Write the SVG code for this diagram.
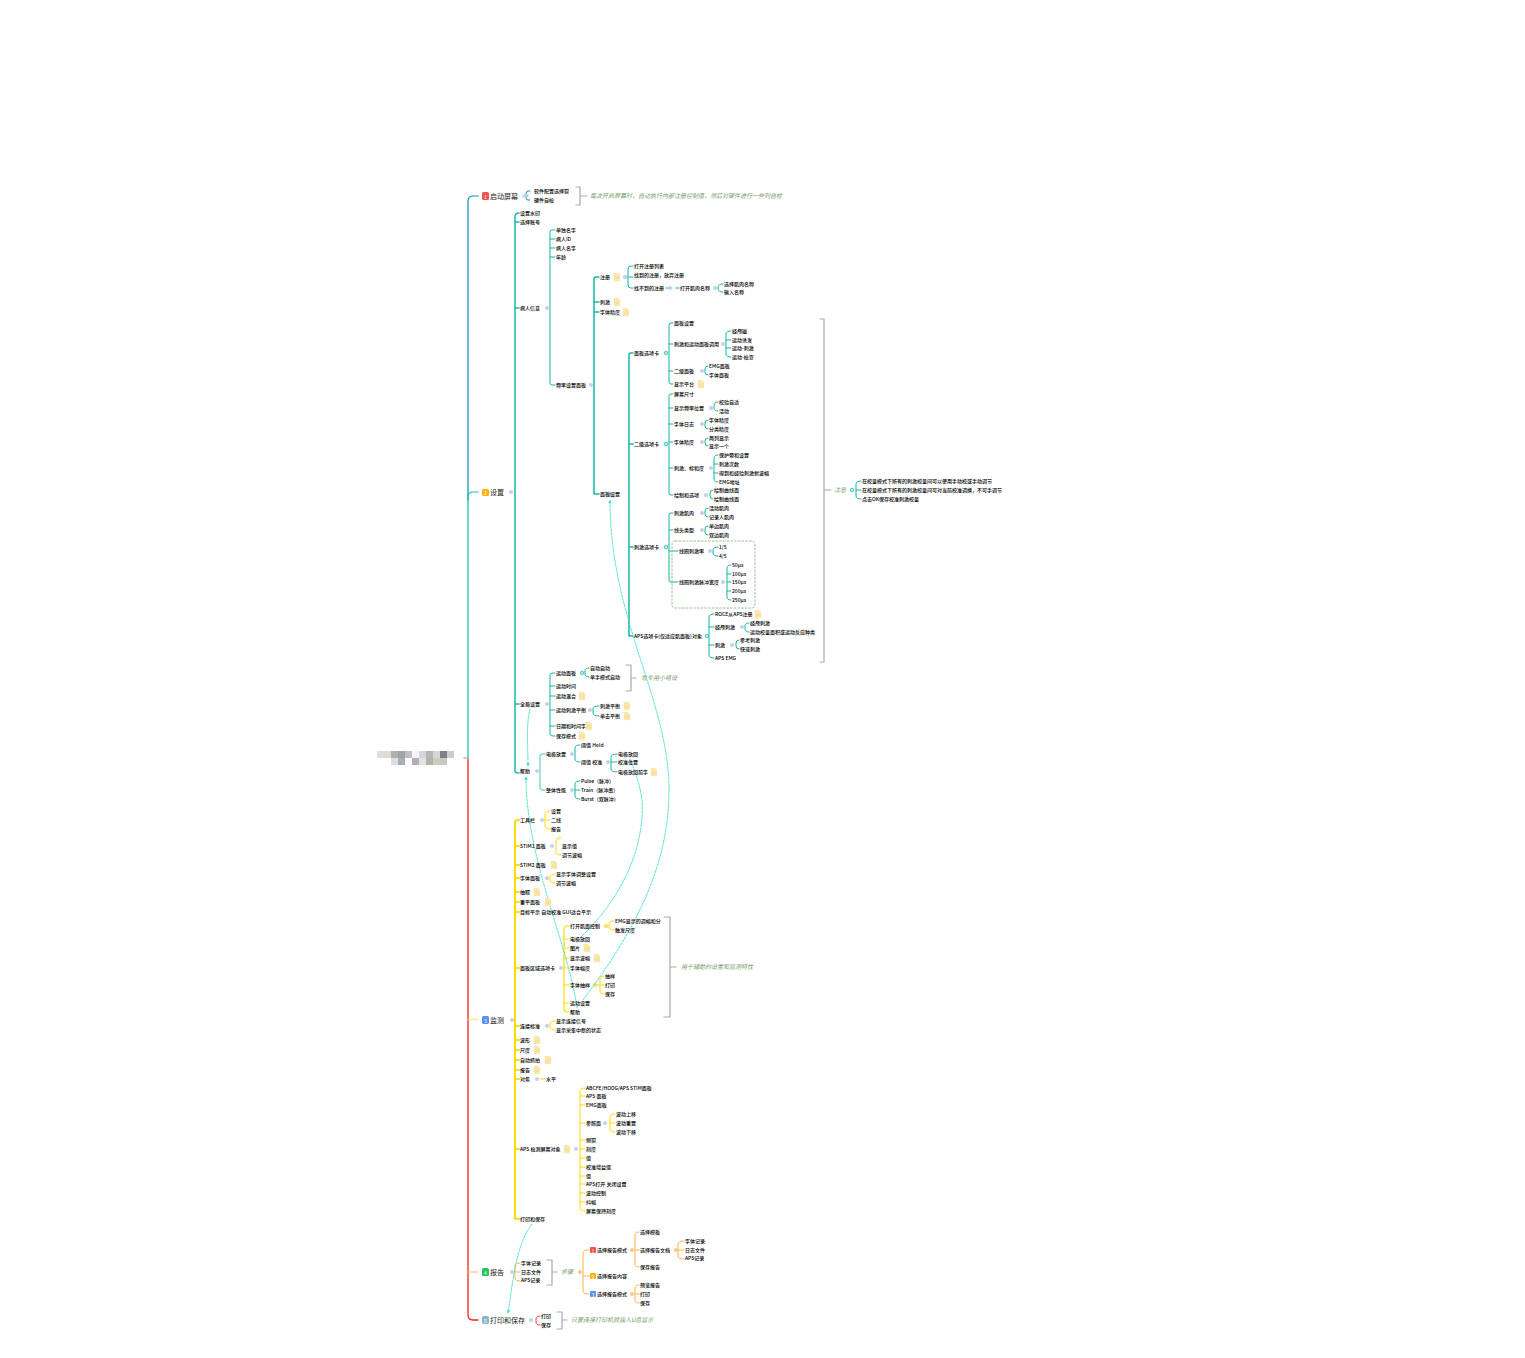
<svg xmlns="http://www.w3.org/2000/svg" width="1525" height="1358" viewBox="0 0 1525 1358">
<style>
text{font-family:"Noto Sans CJK SC","Liberation Sans",sans-serif;font-size:5px;fill:#000;dominant-baseline:central}
#nodes text{transform:translateY(-1px);font-weight:500}
#nodes text.bn{transform:none;font-weight:400}
#nodes use{transform:translateX(1px)}
.top{font-size:7px;fill:#222}
.sum{font-size:6px;font-style:italic;fill:#7a9a6a;transform:translateY(-.7px)}
.bn{font-size:5px;fill:#fff;text-anchor:middle}
path,line{fill:none;stroke-linecap:round}
.b0{stroke:#0a8fb0;stroke-width:1.2}
.b1{stroke:#f5261a;stroke-width:1.3}
.t{stroke:#14b8a6;stroke-width:1}
.t2{stroke:#14b8a6;stroke-width:1.5}
.tl{stroke:#7fdcc9;stroke-width:1.4}
.y{stroke:#ffdc00;stroke-width:1}
.y2{stroke:#ffdc00;stroke-width:2}
.o{stroke:#ffb14a;stroke-width:1}
.r{stroke:#f04040;stroke-width:1}
.g{stroke:#aaa;stroke-width:1.2}
.d{fill:#c5d0ea}
.dt{fill:#b8ecdf;stroke:#14b8a6;stroke-width:.7}
.dy{fill:#f1df9a;stroke:#ffdc00;stroke-width:.6}
.do{fill:#f5c98a}
.x{stroke:#3fe0d0;stroke-width:.9;stroke-dasharray:2.2 1.3}
</style>
<defs>
<symbol id="note" viewBox="0 0 6 8" overflow="visible"><path d="M0 0H4L6 2V8H0Z" style="fill:#fbe6ad;stroke:#fbe6ad;stroke-width:.3"/><path d="M1 4H5M1 5.500H5" style="stroke:#f5d78a;stroke-width:.5"/></symbol>
<marker id="ah" markerWidth="5" markerHeight="5" refX="3.500" refY="2" orient="auto"><path d="M0 0L4 2L0 4Z" style="fill:#3fe0d0;stroke:none"/></marker>
</defs>
<g id="root">
<rect x="377" y="751" width="7" height="7" fill="#e3ddd8"/><rect x="384" y="751" width="7" height="7" fill="#e0dbd0"/><rect x="391" y="751" width="7" height="7" fill="#b0b0ae"/><rect x="398" y="751" width="7" height="7" fill="#9aa4aa"/><rect x="405" y="751" width="7" height="7" fill="#c0c0c0"/><rect x="412" y="751" width="7" height="7" fill="#f4f4f4"/><rect x="419" y="751" width="7" height="7" fill="#d0d6dc"/><rect x="426" y="751" width="7" height="7" fill="#b4b6b4"/><rect x="433" y="751" width="7" height="7" fill="#d8d6d4"/><rect x="440" y="751" width="7" height="7" fill="#80808a"/><rect x="447" y="751" width="7" height="7" fill="#c8ccd4"/>
<rect x="391" y="758" width="7" height="7" fill="#dcdee4"/><rect x="398" y="758" width="7" height="7" fill="#a8b0b4"/><rect x="412" y="758" width="7" height="7" fill="#b4aebc"/><rect x="419" y="758" width="7" height="7" fill="#e4e2dc"/><rect x="426" y="758" width="7" height="7" fill="#b0b2b0"/><rect x="433" y="758" width="7" height="7" fill="#ccccc4"/><rect x="440" y="758" width="7" height="7" fill="#c8c8be"/>
</g>
<g id="connectors">
<path class="b0" d="M468 500V201Q468 196 473 196H478"/>
<path d="M473 196H478" style="stroke:#86c9d8;stroke-width:1.500"/>
<path d="M468 758V497Q468 492 473 492H478" style="stroke:#00c4b0;stroke-width:1.200"/>
<path d="M473 492H478" style="stroke:#8fe3d6;stroke-width:1.500"/>
<path class="b1" d="M468 758V1315Q468 1320 473 1320H478"/>
<path d="M469 1019.500H478" style="stroke:#ffe98a;stroke-width:1.500"/>
<path d="M469 1272H478" style="stroke:#ffd39a;stroke-width:1.500"/>
<path d="M464 758H468" style="stroke:#bbb;stroke-width:1.500"/>
<g id="links">
<path class="b0" d="M530 191H528Q526 191 526 194V197Q526 200 528 200H530M528 196H523" style="stroke-width:1"/>
<path class="t2" d="M515 771V217Q515 213 519 213M515 222H519M515 308H519M515 704H519M515 771Q515 773 519 773"/>
<path class="t" d="M555 230H552Q550 230 550 232V383Q550 385 552 385H555M550 239H555M550 248H555M550 257H555"/>
<path class="t2" d="M594 494V279Q594 277 596 277H599M594 302H599M594 312H599M594 492Q594 494 596 494H599"/>
<path class="t" d="M633 266H631Q628 266 628 269V285Q628 288 631 288H633M628 277H633"/>
<path class="t" d="M666 288H672M676 288H679"/>
<path class="t" d="M723 284Q718 284 718 287V289Q718 292 723 292"/>
<path class="t2" d="M629 636V355Q629 353 631 353H633M629 444H633M629 547H633M629 634Q629 636 631 636H633"/>
<path class="t" d="M673 323H671Q669 323 669 325V382Q669 384 671 384H673M669 344H673M669 371H673"/>
<path class="t" d="M731 331Q726 331 726 334V354Q726 357 731 357M726 340H731M726 348H731"/>
<path class="t" d="M708 366Q705 366 705 369V372Q705 375 708 375"/>
<path class="t" d="M673 394H671Q669 394 669 396V493Q669 495 671 495H673M669 408H673M669 424H673M669 442H673M669 468H673"/>
<path class="t" d="M718 402Q714 402 714 405V408Q714 411 718 411"/>
<path class="t" d="M708 420Q705 420 705 423V426Q705 429 708 429"/>
<path class="t" d="M708 438Q705 438 705 441V443Q705 446 708 446"/>
<path class="t" d="M718 455Q714 455 714 458V479Q714 482 718 482M714 464H718M714 473H718"/>
<path class="t" d="M713 490Q710 490 710 493V496Q710 499 713 499"/>
<path class="t" d="M673 513H671Q669 513 669 515V580Q669 582 671 582H678M669 530H673M669 551H678"/>
<path class="t" d="M708 508Q705 508 705 511V514Q705 517 708 517"/>
<path class="t" d="M708 526Q705 526 705 529V532Q705 535 708 535"/>
<path class="t" d="M718 547Q713 547 713 550V553Q713 556 718 556"/>
<path class="t" d="M731 565Q727 565 727 568V597Q727 600 731 600M727 574H731M727 582H731M727 591H731"/>
<path class="t" d="M714 614Q709 614 709 617V655Q709 658 714 658M709 627H714M709 645H714"/>
<path class="t" d="M749 623Q745 623 745 626V629Q745 632 749 632"/>
<path class="t" d="M739 640Q736 640 736 643V646Q736 649 739 649"/>
<path class="g" d="M820 319H824V662H820M824 490H831"/>
<path class="t" d="M861 481Q856 481 856 484V496Q856 499 861 499M856 490H861"/>
<path class="t" d="M555 673H553Q550 673 550 675V734Q550 736 553 736H555M550 686H555M550 696H555M550 710H555M550 726H555"/>
<path class="t" d="M589 668Q585 668 585 671V674Q585 677 589 677"/>
<path class="t" d="M599 706Q593 706 593 709V713Q593 716 599 716"/>
<path class="g" d="M626 665H631V691H626M631 678H636"/>
<path class="tl" d="M545 754H543Q540 754 540 757V787Q540 790 543 790H545"/>
<path class="t" d="M580 745Q575 745 575 748V759Q575 762 580 762"/>
<path class="t" d="M617 754Q611 754 611 757V769Q611 772 617 772M611 762H617"/>
<path class="t" d="M580 781Q575 781 575 784V796Q575 799 580 799M575 790H580"/>
<path class="y2" d="M515 1219V822Q515 820 519 820M515 846H519M515 865H519M515 878H519M515 892H519M515 902H519M515 912H519M515 968H519M515 1026H519M515 1040H519M515 1050H519M515 1060H519M515 1070H519M515 1079H519M515 1149H519M515 1217Q515 1219 519 1219"/>
<path class="y" d="M550 811Q545 811 545 814V826Q545 829 550 829M545 820H550"/>
<path class="y" d="M561 838Q556 838 556 841V852Q556 855 561 855"/>
<path class="y" d="M555 874Q550 874 550 877V880Q550 883 555 883"/>
<path class="y2" d="M569 926H567Q564 926 564 929V1009Q564 1012 567 1012H569M564 939H569M564 948H569M564 958H569M564 968H569M564 985H569M564 1003H569" style="stroke-width:1.200"/>
<path class="y" d="M614 921Q609 921 609 924V927Q609 930 614 930"/>
<path class="y" d="M604 976Q600 976 600 979V991Q600 994 604 994M596 985H604"/>
<path class="g" d="M664 917H670V1017H664M670 967H676"/>
<path class="y" d="M555 1021Q550 1021 550 1024V1027Q550 1030 555 1030"/>
<path class="y" d="M540 1079H545"/>
<path class="y" d="M585 1088Q580 1088 580 1091V1208Q580 1211 585 1211M580 1096H585M580 1105H585M580 1123H585M580 1140H585M580 1149H585M580 1158H585M580 1167H585M580 1176H585M580 1184H585M580 1193H585M580 1202H585"/>
<path class="y" d="M615 1114Q610 1114 610 1117V1129Q610 1132 615 1132M610 1123H615"/>
<path class="o" d="M520 1263Q515 1263 515 1266V1278Q515 1281 520 1281M515 1272H520"/>
<path class="g" d="M547 1260H552V1285H547M552 1272H557"/>
<path class="o" d="M589 1250Q583 1250 583 1253V1291Q583 1294 589 1294M583 1276H589"/>
<path class="o" d="M639 1232Q635 1232 635 1235V1264Q635 1267 639 1267M635 1250H639"/>
<path class="o" d="M684 1241Q678 1241 678 1244V1256Q678 1259 684 1259M678 1250H684"/>
<path class="o" d="M639 1285Q635 1285 635 1288V1300Q635 1303 639 1303M635 1294H639"/>
<path class="r" d="M540 1316Q536 1316 536 1319V1322Q536 1325 540 1325"/>
<path class="g" d="M557 1312H562V1329H557M562 1320H567"/>
<path class="g" d="M576 187H580V205H576M580 196H587"/>
</g>
<g id="dots">
<g class="d"><circle cx="525" cy="196" r="2"/><circle cx="511" cy="492" r="2"/><circle cx="547" cy="308" r="2"/><circle cx="591" cy="385" r="2"/><circle cx="625" cy="277" r="2.200"/><circle cx="670" cy="288" r="2"/><circle cx="715" cy="288" r="2"/><circle cx="610" cy="494" r="2"/><circle cx="723" cy="344" r="2"/><circle cx="702" cy="371" r="2"/><circle cx="711" cy="408" r="2"/><circle cx="702" cy="424" r="2"/><circle cx="702" cy="442" r="2"/><circle cx="711" cy="468" r="2"/><circle cx="706" cy="495" r="2"/><circle cx="702" cy="513" r="2"/><circle cx="702" cy="530" r="2"/><circle cx="710" cy="551" r="2"/><circle cx="723" cy="582" r="2"/><circle cx="742" cy="627" r="2"/><circle cx="732" cy="645" r="2"/><circle cx="547" cy="704" r="2"/><circle cx="590" cy="710" r="2"/><circle cx="537" cy="771" r="2"/><circle cx="572" cy="754" r="2"/><circle cx="608" cy="762" r="2"/><circle cx="572" cy="790" r="2"/><circle cx="512" cy="1020" r="2"/><circle cx="542" cy="820" r="2"/><circle cx="552" cy="846" r="2"/><circle cx="547" cy="878" r="2"/><circle cx="561" cy="968" r="2"/><circle cx="547" cy="1026" r="2"/><circle cx="537" cy="1079" r="2"/><circle cx="576" cy="1149" r="2"/><circle cx="605" cy="1123" r="2"/><circle cx="512" cy="1272" r="2"/><circle cx="531" cy="1320" r="2"/></g>
<g class="dt"><circle cx="666" cy="353" r="1.800"/><circle cx="666" cy="444" r="1.800"/><circle cx="666" cy="547" r="1.800"/><circle cx="707" cy="636" r="1.800"/><circle cx="852" cy="490" r="1.800"/><circle cx="582" cy="673" r="1.800"/></g>
<g class="dy"><circle cx="606" cy="926" r="1.800"/><circle cx="595" cy="985" r="1.800"/></g>
<g class="do"><circle cx="580" cy="1272" r="2"/><circle cx="632" cy="1250" r="2"/><circle cx="676" cy="1250" r="2"/><circle cx="632" cy="1294" r="2"/></g>
</g>
<rect x="672" y="541" width="83" height="67" rx="3" fill="none" stroke="#8abb88" stroke-width=".9" stroke-dasharray="2.500 1.200"/>
<g id="crosslinks">
<path class="x" marker-end="url(#ah)" d="M532 1224C515 1245 512 1290 508 1313"/>
<path class="x" marker-end="url(#ah)" d="M530 709C526 725 528 745 528 766"/>
<path class="x" marker-end="url(#ah)" d="M577 1008C570 950 526 860 526 777"/>
<path class="x" marker-end="url(#ah)" d="M583 1000C640 925 669 860 669 790C669 700 610 620 610 500"/>
<path class="x" marker-end="url(#ah)" d="M580 938C620 900 645 850 642 800C640 785 635 770 630 760"/>
</g>
</g>
<g id="t1"><rect x="482" y="192" width="7" height="8" rx="1.500" fill="#ef5350"/><text class="bn" x="485.500" y="196">1</text><text class="top" x="490" y="196">启动屏幕</text></g>
<g id="t2"><rect x="482" y="489" width="7" height="7" rx="1.500" fill="#ffb300"/><text class="bn" x="485.500" y="492.500">2</text><text class="top" x="490" y="492">设置</text></g>
<g id="t3"><rect x="482" y="1016" width="7" height="8" rx="1.500" fill="#5b8ff9"/><text class="bn" x="485.500" y="1020">3</text><text class="top" x="490" y="1020">监测</text></g>
<g id="t4"><rect x="482" y="1268" width="7" height="8" rx="1.500" fill="#22c55e"/><text class="bn" x="485.500" y="1272">4</text><text class="top" x="490" y="1272">报告</text></g>
<g id="t5"><rect x="482" y="1316" width="7" height="8" rx="1.500" fill="#8fb8c8"/><text class="bn" x="485.500" y="1320">5</text><text class="top" x="490" y="1320">打印和保存</text></g>
<g id="s1"><text class="sum" x="590" y="196">每次开启屏幕时，自动执行内部注册控制值，然后对硬件进行一些列自检</text></g>
<g id="s2"><text class="sum" x="834" y="490">注意</text></g>
<g id="s3"><text class="sum" x="641" y="678">有专用小组设</text></g>
<g id="s4"><text class="sum" x="681" y="967">用于辅助的设置和监测特性</text></g>
<g id="s5"><text class="sum" x="561" y="1272">步骤</text></g>
<g id="s6"><text class="sum" x="571" y="1320">只要连接打印机就插入U盘显示</text></g>
<g id="nodes">
<g id="a1"><text x="534" y="191">软件配置选择窗</text></g><g id="a2"><text x="534" y="200">硬件自检</text></g>
<g id="b1n"><text x="520" y="213">设置水印</text></g><g id="b2"><text x="520" y="222">选择账号</text></g><g id="b3"><text x="520" y="308">病人信息</text></g>
<g id="b4"><text x="556" y="230">单独名字</text></g><g id="b5"><text x="556" y="239">病人ID</text></g><g id="b6"><text x="556" y="248">病人名字</text></g><g id="b7"><text x="556" y="257">年龄</text></g><g id="b8"><text x="556" y="385">频率设置面板</text></g>
<g id="c1"><text x="600" y="277">注册</text><use href="#note" x="613" y="273" width="6" height="8"/></g><g id="c2"><text x="600" y="302">刺激</text><use href="#note" x="613" y="298" width="6" height="8"/></g><g id="c3"><text x="600" y="312">字体精度</text><use href="#note" x="622" y="308" width="6" height="8"/></g><g id="c4"><text x="600" y="494">面板设置</text></g>
<g id="c5"><text x="634" y="266">打开注册列表</text></g><g id="c6"><text x="634" y="275">找到的注册，放弃注册</text></g><g id="c7"><text x="634" y="288">找不到的注册</text></g><g id="c8"><text x="680" y="288">打开肌肉名称</text></g><g id="c9"><text x="724" y="284">选择肌肉名称</text></g><g id="c10"><text x="724" y="292">输入名称</text></g>
<g id="d1"><text x="634" y="353">面板选项卡</text></g><g id="d2"><text x="634" y="444">二级选项卡</text></g><g id="d3"><text x="634" y="547">刺激选项卡</text></g><g id="d4"><text x="634" y="636">APS选项卡(仅适应肌面板)对象</text></g>
<g id="e1"><text x="674" y="323">面板设置</text></g><g id="e2"><text x="674" y="344">刺激和运动面板调用</text></g><g id="e3"><text x="732" y="331">经颅磁</text></g><g id="e4"><text x="732" y="340">运动诱发</text></g><g id="e5"><text x="732" y="348">运动-刺激</text></g><g id="e6"><text x="732" y="357">运动-检查</text></g><g id="e7"><text x="674" y="371">二级面板</text></g><g id="e8"><text x="709" y="366">EMG面板</text></g><g id="e9"><text x="709" y="375">字体面板</text></g><g id="e10"><text x="674" y="384">显示平台</text><use href="#note" x="697" y="380" width="6" height="8"/></g>
<g id="f1"><text x="674" y="394">屏幕尺寸</text></g><g id="f2"><text x="674" y="408">显示频率位置</text></g><g id="f3"><text x="719" y="402">校验自适</text></g><g id="f4"><text x="719" y="411">活动</text></g><g id="f5"><text x="674" y="424">字体日志</text></g><g id="f6"><text x="709" y="420">字体精度</text></g><g id="f7"><text x="709" y="429">分类精度</text></g><g id="f8"><text x="674" y="442">字体精度</text></g><g id="f9"><text x="709" y="438">两列显示</text></g><g id="f10"><text x="709" y="446">显示一个</text></g><g id="f11"><text x="674" y="468">刺激、标和度</text></g><g id="f12"><text x="719" y="455">保护带和设置</text></g><g id="f13"><text x="719" y="464">刺激次数</text></g><g id="f14"><text x="719" y="473">得到和经验刺激新波幅</text></g><g id="f15"><text x="719" y="482">EMG地址</text></g><g id="f16"><text x="674" y="495">绘制和选项</text></g><g id="f17"><text x="714" y="490">绘制曲线面</text></g><g id="f18"><text x="714" y="499">绘制曲线面</text></g>
<g id="h1"><text x="674" y="513">刺激肌肉</text></g><g id="h2"><text x="709" y="508">活动肌肉</text></g><g id="h3"><text x="709" y="517">记录人肌肉</text></g><g id="h4"><text x="674" y="530">线头类型</text></g><g id="h5"><text x="709" y="526">单边肌肉</text></g><g id="h6"><text x="709" y="535">双边肌肉</text></g><g id="h7"><text x="679" y="551">线圈刺激率</text></g><g id="h8"><text x="719" y="547">1/5</text></g><g id="h9"><text x="719" y="556">4/5</text></g><g id="h10"><text x="679" y="582">线圈刺激脉冲宽度</text></g><g id="h11"><text x="732" y="565">50μs</text></g><g id="h12"><text x="732" y="574">100μs</text></g><g id="h13"><text x="732" y="582">150μs</text></g><g id="h14"><text x="732" y="591">200μs</text></g><g id="h15"><text x="732" y="600">250μs</text></g>
<g id="i1"><text x="715" y="614">ROCE从APS注册</text><use href="#note" x="754" y="610" width="6" height="8"/></g><g id="i2"><text x="715" y="627">经颅刺激</text></g><g id="i3"><text x="750" y="623">经颅刺激</text></g><g id="i4"><text x="750" y="632">运动校量面积或运动反应种类</text></g><g id="i5"><text x="715" y="645">刺激</text></g><g id="i6"><text x="740" y="640">参考刺激</text></g><g id="i7"><text x="740" y="649">快速刺激</text></g><g id="i8"><text x="715" y="658">APS EMG</text></g>
<g id="j1"><text x="862" y="481">在校量模式下所有的刺激校量间可以使用手动校或手动调节</text></g><g id="j2"><text x="862" y="490">在校量模式下所有的刺激校量间可对当前校准调换，不可手调节</text></g><g id="j3"><text x="862" y="499">点击OK保存校准刺激校量</text></g>
<g id="k0"><text x="520" y="704">全局设置</text></g><g id="k1"><text x="556" y="673">运动面板</text></g><g id="k2"><text x="590" y="668">自动启动</text></g><g id="k3"><text x="590" y="677">单手模式启动</text></g><g id="k4"><text x="556" y="686">运动时间</text></g><g id="k5"><text x="556" y="696">运动混合</text><use href="#note" x="578" y="692" width="6" height="8"/></g><g id="k6"><text x="556" y="710">运动刺激平衡</text></g><g id="k7"><text x="600" y="706">刺激平衡</text><use href="#note" x="623" y="702" width="6" height="8"/></g><g id="k8"><text x="600" y="716">单击平衡</text><use href="#note" x="623" y="712" width="6" height="8"/></g><g id="k9"><text x="556" y="726">日期和时间字</text><use href="#note" x="585" y="722" width="6" height="8"/></g><g id="k10"><text x="556" y="736">保存模式</text><use href="#note" x="578" y="732" width="6" height="8"/></g>
<g id="l0"><text x="520" y="771">帮助</text></g><g id="l1"><text x="546" y="754">电极放置</text></g><g id="l2"><text x="581" y="745">阈值 Hold</text></g><g id="l3"><text x="581" y="762">阈值 校准</text></g><g id="l4"><text x="618" y="754">电极放回</text></g><g id="l5"><text x="618" y="762">校准位置</text></g><g id="l6"><text x="618" y="772">电极放回前字</text><use href="#note" x="650" y="768" width="6" height="8"/></g><g id="l7"><text x="546" y="790">整体性能</text></g><g id="l8"><text x="581" y="781">Pulse（脉冲）</text></g><g id="l9"><text x="581" y="790">Train（脉冲串）</text></g><g id="l10"><text x="581" y="799">Burst（双脉冲）</text></g>
<g id="m1"><text x="520" y="820">工具栏</text></g><g id="m2"><text x="551" y="811">设置</text></g><g id="m3"><text x="551" y="820">二线</text></g><g id="m4"><text x="551" y="829">报告</text></g><g id="m5"><text x="520" y="846">STIM1 面板</text></g><g id="m6"><text x="562" y="846">显示值</text></g><g id="m7"><text x="562" y="855">调节波幅</text></g><g id="m8"><text x="520" y="865">STIM2 面板</text><use href="#note" x="550" y="861" width="6" height="8"/></g><g id="m9"><text x="520" y="878">字体面板</text></g><g id="m10"><text x="556" y="874">显示字体调整设置</text></g><g id="m11"><text x="556" y="883">调节波幅</text></g><g id="m12"><text x="520" y="892">抽取</text><use href="#note" x="533" y="888" width="6" height="8"/></g><g id="m13"><text x="520" y="902">重平面板</text><use href="#note" x="544" y="898" width="6" height="8"/></g><g id="m14"><text x="520" y="912">目标平示 自动校准 GUI适合平示</text></g>
<g id="p0"><text x="520" y="968">面板区域选项卡</text></g><g id="p1"><text x="570" y="926">打开肌面控制</text></g><g id="p2"><text x="615" y="921">EMG显示的调幅和分</text></g><g id="p3"><text x="615" y="930">触发尺度</text></g><g id="p4"><text x="570" y="939">电极放回</text></g><g id="p5"><text x="570" y="948">图片</text><use href="#note" x="583" y="944" width="6" height="8"/></g><g id="p6"><text x="570" y="958">显示波幅</text><use href="#note" x="593" y="954" width="6" height="8"/></g><g id="p7"><text x="570" y="968">字体幅度</text></g><g id="p8"><text x="570" y="985">字体抽样</text></g><g id="p9"><text x="605" y="976">抽样</text></g><g id="p10"><text x="605" y="985">打印</text></g><g id="p11"><text x="605" y="994">保存</text></g><g id="p12"><text x="570" y="1003">运动设置</text></g><g id="p13"><text x="570" y="1012">帮助</text></g>
<g id="q1"><text x="520" y="1026">连接标准</text></g><g id="q2"><text x="556" y="1021">显示连接信号</text></g><g id="q3"><text x="556" y="1030">显示采集中断的状态</text></g><g id="q4"><text x="520" y="1040">波形</text><use href="#note" x="533" y="1036" width="6" height="8"/></g><g id="q5"><text x="520" y="1050">尺度</text><use href="#note" x="533" y="1046" width="6" height="8"/></g><g id="q6"><text x="520" y="1060">自动抓拍</text><use href="#note" x="544" y="1056" width="6" height="8"/></g><g id="q7"><text x="520" y="1070">报告</text><use href="#note" x="533" y="1066" width="6" height="8"/></g><g id="q8"><text x="520" y="1079">对焦</text></g><g id="q9"><text x="546" y="1079">水平</text></g>
<g id="u0"><text x="520" y="1149">APS 检测屏幕对象</text><use href="#note" x="563" y="1145" width="6" height="8"/></g><g id="u1"><text x="586" y="1088">ABCFE/HODG/APS STIM面板</text></g><g id="u2"><text x="586" y="1096">APS 面板</text></g><g id="u3"><text x="586" y="1105">EMG面板</text></g><g id="u4"><text x="586" y="1123">参照面</text></g><g id="u5"><text x="616" y="1114">波动上移</text></g><g id="u6"><text x="616" y="1123">波动重置</text></g><g id="u7"><text x="616" y="1132">波动下移</text></g><g id="u8"><text x="586" y="1140">侧窗</text></g><g id="u9"><text x="586" y="1149">刻度</text></g><g id="u10"><text x="586" y="1158">值</text></g><g id="u11"><text x="586" y="1167">校准增益值</text></g><g id="u12"><text x="586" y="1176">值</text></g><g id="u13"><text x="586" y="1184">APS打开 关闭设置</text></g><g id="u14"><text x="586" y="1193">波动控制</text></g><g id="u15"><text x="586" y="1202">抖幅</text></g><g id="u16"><text x="586" y="1211">屏幕保持刻度</text></g><g id="u17"><text x="520" y="1219">打印和保存</text></g>
<g id="v1"><text x="521" y="1263">字体记录</text></g><g id="v2"><text x="521" y="1272">日志文件</text></g><g id="v3"><text x="521" y="1280">APS记录</text></g>
<g id="w1"><rect x="590" y="1247" width="6" height="6" rx="1" fill="#ef5350"/><text class="bn" x="593" y="1250">1</text><text x="597" y="1250">选择报告模式</text></g><g id="w2"><text x="640" y="1232">选择模板</text></g><g id="w3"><text x="640" y="1250">选择报告文档</text></g><g id="w4"><text x="685" y="1241">字体记录</text></g><g id="w5"><text x="685" y="1250">日志文件</text></g><g id="w6"><text x="685" y="1258">APS记录</text></g><g id="w7"><text x="640" y="1267">保存报告</text></g>
<g id="w8"><rect x="590" y="1273" width="6" height="6" rx="1" fill="#ffb300"/><text class="bn" x="593" y="1276">2</text><text x="597" y="1276">选择报告内容</text></g>
<g id="w9"><rect x="590" y="1291" width="6" height="6" rx="1" fill="#5b8ff9"/><text class="bn" x="593" y="1294">3</text><text x="597" y="1294">选择报告模式</text></g><g id="w10"><text x="640" y="1285">预览报告</text></g><g id="w11"><text x="640" y="1294">打印</text></g><g id="w12"><text x="640" y="1303">保存</text></g>
<g id="z1"><text x="541" y="1316">打印</text></g><g id="z2"><text x="541" y="1325">保存</text></g>
</g>
</svg>
